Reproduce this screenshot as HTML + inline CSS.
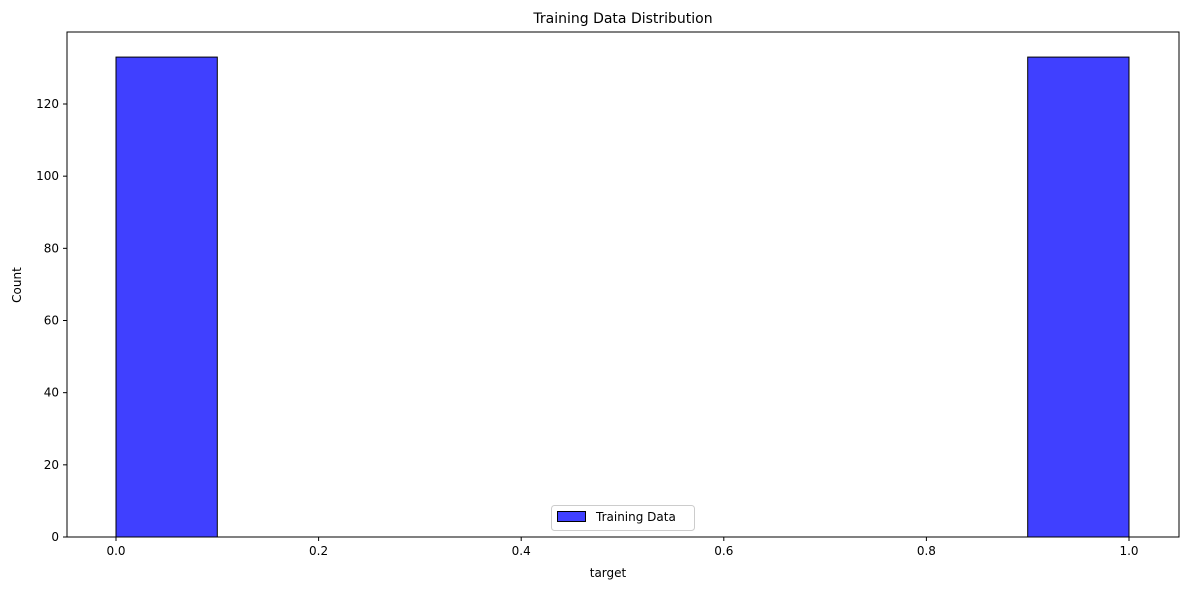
<!DOCTYPE html>
<html><head><meta charset="utf-8"><style>body{margin:0;background:#fff}svg text{font-family:"DejaVu Sans","Liberation Sans",sans-serif;fill:#000}</style></head>
<body>
<svg id="chart" width="1189" height="590" xmlns="http://www.w3.org/2000/svg">
<text x="623" y="23" font-size="14" text-anchor="middle">Training Data Distribution</text>
<g id="bars"></g>
<g id="axes"></g>
<rect x="67" y="32" width="1112" height="505" fill="none" stroke="#000" stroke-width="1"/>
<text x="608" y="577" font-size="12" text-anchor="middle">target</text>
<text x="21" y="285" font-size="12" text-anchor="middle" transform="rotate(-90 21 285)">Count</text>
<g>
<rect x="551.5" y="505.5" width="143" height="25" rx="3" fill="#fff" stroke="#ccc"/>
<rect x="557.5" y="511.5" width="28" height="10" fill="#4040ff" stroke="#000"/>
<text x="596" y="521" font-size="12">Training Data</text>
</g>
</svg>
<script>
const binEdges = [0,0.1,0.2,0.3,0.4,0.5,0.6,0.7,0.8,0.9,1.0];
const counts = [133,0,0,0,0,0,0,0,0,133];
const xTicks = [0.0,0.2,0.4,0.6,0.8,1.0];
const yTicks = [0,20,40,60,80,100,120];
const NS='http://www.w3.org/2000/svg';
const xs=v=>116+v*(1129-116);
const ys=v=>537-v*(433/120);
const bars=document.getElementById('bars'), axes=document.getElementById('axes');
function mk(tag,attrs,parent){const e=document.createElementNS(NS,tag);for(const k in attrs)e.setAttribute(k,attrs[k]);parent.appendChild(e);return e;}
counts.forEach((c,i)=>{
  const x0=xs(binEdges[i]),x1=xs(binEdges[i+1]);
  const r=mk('rect',{x:x0,y:ys(c),width:x1-x0,height:ys(0)-ys(c),fill:'#4040ff',stroke:'#000','stroke-width':1},bars);
  
  
});
xTicks.forEach(t=>{
  const x=xs(t);
  const l=mk('line',{x1:x,x2:x,y1:537,y2:541,stroke:'#000'},axes);
  
  
  const tx=mk('text',{x:x,y:555,'font-size':12,'text-anchor':'middle'},axes);
  tx.textContent=t.toFixed(1);
  
  
});
yTicks.forEach(t=>{
  const y=ys(t);
  const l=mk('line',{x1:63,x2:67,y1:y,y2:y,stroke:'#000'},axes);
  
  
  const tx=mk('text',{x:59,y:y+4,'font-size':12,'text-anchor':'end'},axes);
  tx.textContent=t;
  
  
});
</script>
</body></html>
